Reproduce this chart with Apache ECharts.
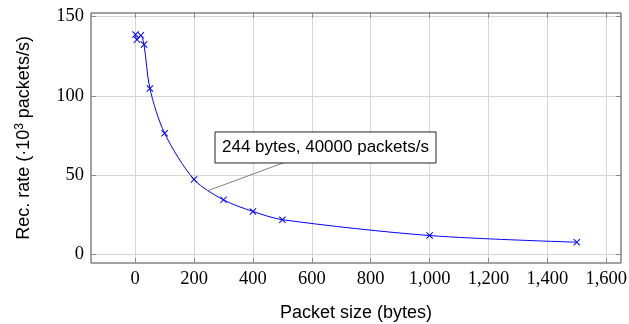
<!DOCTYPE html>
<html>
<head>
<meta charset="utf-8">
<script src="https://cdn.jsdelivr.net/npm/echarts@6/dist/echarts.min.js"></script>
<style>
  html, body { margin: 0; padding: 0; background: #fff; }
  #chart { width: 629px; height: 324px; }
</style>
</head>
<body>
<div id="chart"></div>
<script>
// packet size (bytes) vs receive rate (10^3 packets/s)
const packetSize = [1, 6, 19, 30, 50, 100, 200, 300, 400, 500, 1000, 1500];
const recRate = [138.6, 135.4, 138.1, 132.3, 104.6, 76.4, 47.3, 34.4, 27.1, 21.9, 11.9, 7.7];
const xTicks = [0, 200, 400, 600, 800, 1000, 1200, 1400, 1600];
const yTicks = [0, 50, 100, 150];
const pinPoint = [244, 40];
const pinText = '244 bytes, 40000 packets/s';

const chart = echarts.init(document.getElementById('chart'));

const tickStyle = { show: true, inside: true, length: 5, lineStyle: { color: '#888', width: 1 } };
const gridLine = { show: true, lineStyle: { color: '#d6d6d6', width: 1 } };
const labelFont = { fontFamily: 'Liberation Serif', fontSize: 18.5, color: '#000' };
const nameFont = { fontFamily: 'Liberation Sans', fontSize: 18, color: '#000' };
const noLine = { show: false, onZero: false };

chart.setOption({
  animation: false,
  grid: { left: 91, right: 8, top: 13, bottom: 61, show: true, borderColor: '#444', borderWidth: 1,
    outerBoundsMode: 'none', containLabel: false },
  xAxis: [
    {
      type: 'value', min: -150, max: 1650,
      name: 'Packet size (bytes)', nameLocation: 'middle', nameGap: 41,
      nameTextStyle: nameFont,
      axisLine: noLine,
      axisTick: Object.assign({ customValues: xTicks }, tickStyle),
      axisLabel: Object.assign({ customValues: xTicks, margin: 7,
        formatter: v => v.toLocaleString('en-US') }, labelFont),
      splitLine: gridLine
    },
    {
      type: 'value', min: -150, max: 1650, position: 'top',
      axisLine: noLine,
      axisTick: Object.assign({ customValues: xTicks }, tickStyle),
      axisLabel: { show: false }, splitLine: { show: false }
    }
  ],
  yAxis: [
    {
      type: 'value', min: -5.4, max: 152.2,
      name: 'Rec. rate (·10{sup|3} packets/s)', nameLocation: 'middle', nameGap: 57,
      nameTextStyle: Object.assign({
        rich: { sup: { fontFamily: 'Liberation Sans', fontSize: 12, verticalAlign: 'top', padding: [0, 0, 8, 0] } }
      }, nameFont),
      axisLine: noLine,
      axisTick: Object.assign({ customValues: yTicks }, tickStyle),
      axisLabel: Object.assign({ customValues: yTicks, margin: 7 }, labelFont),
      splitLine: gridLine
    },
    {
      type: 'value', min: -5.4, max: 152.2, position: 'right',
      axisLine: noLine,
      axisTick: Object.assign({ customValues: yTicks }, tickStyle),
      axisLabel: { show: false }, splitLine: { show: false }
    }
  ],
  series: [{
    type: 'line',
    data: packetSize.map((x, i) => [x, recRate[i]]),
    smooth: 0.3,
    lineStyle: { color: '#0000ff', width: 1 },
    symbol: 'path://M0,1L1,0L5,4L9,0L10,1L6,5L10,9L9,10L5,6L1,10L0,9L4,5Z',
    symbolSize: 7,
    itemStyle: { color: '#0000ff' }
  }]
});

const p = chart.convertToPixel({ xAxisIndex: 0, yAxisIndex: 0 }, pinPoint);
const box = { x: p[0] + 8, y: p[1] - 59, w: 221, h: 31 };
chart.setOption({
  graphic: [
    { type: 'line', shape: { x1: p[0], y1: p[1], x2: p[0] + 76, y2: box.y + box.h },
      style: { stroke: '#808080', lineWidth: 1 }, z: 100 },
    { type: 'rect', shape: { x: box.x, y: box.y, width: box.w, height: box.h },
      style: { fill: '#fff', stroke: '#222', lineWidth: 1 }, z: 101 },
    { type: 'text', x: box.x + box.w / 2, y: box.y + box.h / 2, z: 102,
      style: { text: pinText, fontFamily: 'Liberation Sans', fontSize: 17, fill: '#000',
        align: 'center', verticalAlign: 'middle' } }
  ]
});
</script>
</body>
</html>
